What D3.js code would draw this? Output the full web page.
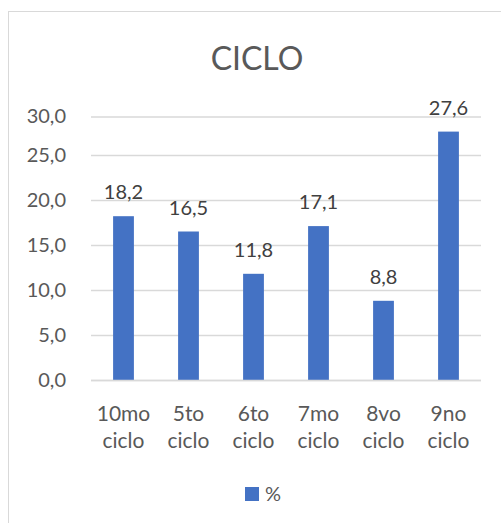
<!DOCTYPE html>
<html>
<head>
<meta charset="utf-8">
<script src="https://cdn.jsdelivr.net/npm/d3@7"></script>
<style>
  html, body { margin: 0; padding: 0; background: #fff; }
  svg { display: block; font-family: Lato, "Open Sans", sans-serif; }
</style>
</head>
<body>
<svg id="chart" width="501" height="523"></svg>
<script>
// Chart data
const categories = ["10mo ciclo", "5to ciclo", "6to ciclo", "7mo ciclo", "8vo ciclo", "9no ciclo"];
const values = [18.2, 16.5, 11.8, 17.1, 8.8, 27.6];
const tickValues = [0, 5, 10, 15, 20, 25, 30];
const seriesName = "%";
const title = "CICLO";

const svg = d3.select("#chart");
const fmt = v => d3.format(".1f")(v).replace(".", ",");

// Chart area frame
svg.append("rect")
  .attr("x", 8.5).attr("y", 11.5)
  .attr("width", 520).attr("height", 540)
  .attr("fill", "#fff").attr("stroke", "#d9d9d9");

const plot = { left: 91, right: 481, top: 110, bottom: 380 };

const x = d3.scaleBand()
  .domain(categories)
  .range([plot.left, plot.right])
  .paddingInner(0.68).paddingOuter(0.34);

const y = d3.scaleLinear().domain([0, 30]).range([plot.bottom, plot.top]);
// the top gridline sits a little lower than the linear step
const yGrid = d3.scaleLinear().domain([0, 25, 30]).range([plot.bottom, y(25), 116.5]);

// Title
svg.append("text")
  .attr("x", 257).attr("y", 70)
  .attr("text-anchor", "middle")
  .attr("fill", "#595959")
  .attr("font-size", 32)
  .text(title);

// Gridlines and value axis labels
const yAxis = d3.axisLeft(yGrid)
  .tickValues(tickValues)
  .tickSize(-(plot.right - plot.left))
  .tickPadding(25)
  .tickFormat(fmt);

const gy = svg.append("g")
  .attr("transform", `translate(${plot.left},0)`)
  .call(yAxis);
gy.select(".domain").remove();
gy.selectAll(".tick line").attr("stroke", "#d9d9d9").attr("stroke-width", 1.3);
gy.selectAll(".tick text")
  .attr("fill", "#595959")
  .attr("font-size", 20)
  .attr("font-family", "Lato, sans-serif");

// Bars
svg.append("g").selectAll("rect")
  .data(values)
  .join("rect")
  .attr("x", (d, i) => x(categories[i]))
  .attr("y", d => y(d))
  .attr("width", x.bandwidth())
  .attr("height", d => y(0) - y(d))
  .attr("fill", "#4472c4");

// Category axis line
svg.append("line")
  .attr("x1", plot.left).attr("x2", plot.right)
  .attr("y1", y(0) + 0.5).attr("y2", y(0) + 0.5)
  .attr("stroke", "#d9d9d9").attr("stroke-width", 1.3);

// Data labels
svg.append("g").selectAll("text")
  .data(values)
  .join("text")
  .attr("x", (d, i) => x(categories[i]) + x.bandwidth() / 2)
  .attr("y", d => y(d) - 17)
  .attr("text-anchor", "middle")
  .attr("fill", "#404040")
  .attr("font-size", 20)
  .text(d => fmt(d));

// Category labels, two lines each
const catG = svg.append("g").selectAll("text")
  .data(categories)
  .join("text")
  .attr("text-anchor", "middle")
  .attr("fill", "#595959")
  .attr("font-size", 21);
catG.each(function(c) {
  const parts = c.split(" ");
  const cx = x(c) + x.bandwidth() / 2;
  d3.select(this).selectAll("tspan")
    .data(parts)
    .join("tspan")
    .attr("x", cx)
    .attr("y", (p, j) => 421 + j * 27)
    .text(p => p);
});

// Legend
const legend = svg.append("g");
legend.append("rect")
  .attr("x", 245).attr("y", 487)
  .attr("width", 14).attr("height", 14)
  .attr("fill", "#4472c4");
legend.append("text")
  .attr("x", 265).attr("y", 501)
  .attr("fill", "#595959")
  .attr("font-size", 20)
  .text(seriesName);
</script>
</body>
</html>
